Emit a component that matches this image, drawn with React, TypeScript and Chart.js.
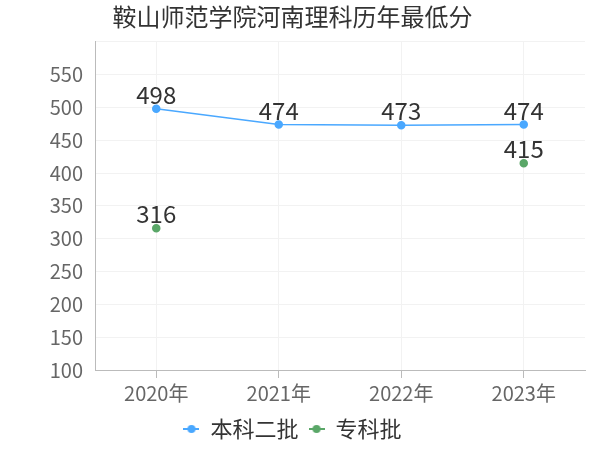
import React, { useEffect, useRef } from 'react';
import { Chart, registerables } from 'chart.js';

Chart.register(...registerables);

const years = ['2020年', '2021年', '2022年', '2023年'];
const benke = [498, 474, 473, 474];
const zhuanke = [316, null, null, 415];
const seriesNames = ['本科二批', '专科批'];
const colors = ['#4aa8ff', '#5aa768'];

const FONT = '"Noto Sans CJK SC", "Noto Sans", sans-serif';

// small line + dot marker for the legend
const legendMark = (color: string) => {
    const c = document.createElement('canvas');
    c.width = 16;
    c.height = 10;
    const g = c.getContext('2d');
    g.strokeStyle = color;
    g.lineWidth = 2;
    g.beginPath();
    g.moveTo(0, 5);
    g.lineTo(16, 5);
    g.stroke();
    g.fillStyle = color;
    g.beginPath();
    g.arc(8, 5, 4, 0, Math.PI * 2);
    g.fill();
    return c;
};

const valueLabels = {
    id: 'valueLabels',
    afterDatasetsDraw(chart) {
        const ctx = chart.ctx;
        ctx.save();
        ctx.font = '24px ' + FONT;
        ctx.fillStyle = '#333';
        ctx.textAlign = 'center';
        ctx.textBaseline = 'alphabetic';
        chart.data.datasets.forEach((ds, i) => {
            chart.getDatasetMeta(i).data.forEach((pt, j) => {
                const v = ds.data[j];
                if (v == null) return;
                ctx.fillText(String(v), pt.x, pt.y - 5);
            });
        });
        ctx.restore();
    },
};

const App = () => {
    const canvasRef = useRef(null);

    useEffect(() => {
        const ctx = canvasRef.current.getContext('2d');
        const marks = colors.map(legendMark);
        const c = new Chart(ctx, {
            type: 'line',
            data: {
                labels: years,
                datasets: [
                    {
                        label: seriesNames[0],
                        data: benke,
                        borderColor: colors[0],
                        backgroundColor: colors[0],
                        borderWidth: 1.5,
                        pointRadius: 3.5,
                        pointHoverRadius: 3.5,
                        spanGaps: false,
                    },
                    {
                        label: seriesNames[1],
                        data: zhuanke,
                        borderColor: colors[1],
                        backgroundColor: colors[1],
                        borderWidth: 1.5,
                        pointRadius: 3.5,
                        pointHoverRadius: 3.5,
                        spanGaps: false,
                        showLine: false,
                    },
                ],
            },
            options: {
                animation: false,
                responsive: false,
                layout: { padding: { left: 0, right: 15, top: 0, bottom: 0 } },
                plugins: {
                    title: {
                        display: true,
                        text: '鞍山师范学院河南理科历年最低分',
                        color: '#333',
                        font: { family: FONT, size: 24, weight: 'normal' },
                        padding: { top: 2, bottom: 11 },
                    },
                    legend: {
                        position: 'bottom',
                        labels: {
                            color: '#333',
                            font: { family: FONT, size: 22 },
                            usePointStyle: true,
                            boxWidth: 16,
                            boxHeight: 10,
                            padding: 10,
                            generateLabels: (chart) => {
                                const items = Chart.defaults.plugins.legend.labels.generateLabels(chart);
                                items.forEach((it, i) => {
                                    it.pointStyle = marks[i];
                                });
                                return items;
                            },
                        },
                    },
                    tooltip: { enabled: false },
                },
                scales: {
                    x: {
                        offset: true,
                        grid: { color: '#f2f2f2', offset: false, drawTicks: true, tickColor: '#bbb' },
                        border: { color: '#bbb' },
                        ticks: { color: '#666', font: { family: FONT, size: 20 }, padding: 3 },
                    },
                    y: {
                        min: 100,
                        max: 600,
                        afterFit: (scale) => {
                            scale.width = 95;
                        },
                        grid: { color: '#f2f2f2', drawTicks: false },
                        border: { color: '#bbb' },
                        ticks: {
                            stepSize: 50,
                            color: '#666',
                            font: { family: FONT, size: 20 },
                            padding: 12,
                            callback: (v) => (v === 600 ? '' : v),
                        },
                    },
                },
            },
            plugins: [valueLabels],
        });
        return () => {
            c.destroy();
        };
    }, []);

    return (
        <div style={{ position: 'fixed', left: 0, top: 0, width: 600, height: 450, background: '#fff' }}>
            <canvas ref={canvasRef} width={600} height={450} />
        </div>
    );
};

export default App;
